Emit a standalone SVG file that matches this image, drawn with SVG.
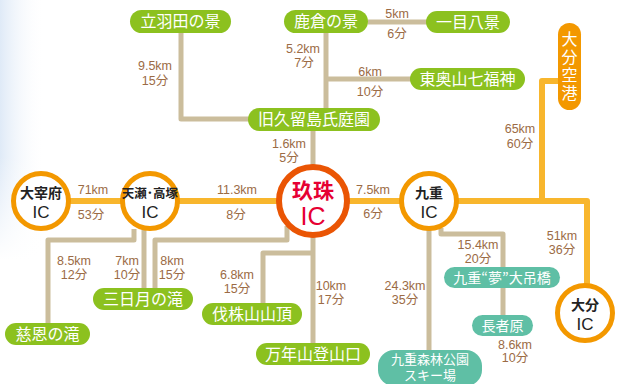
<svg xmlns="http://www.w3.org/2000/svg" width="623" height="384" viewBox="0 0 623 384">
<defs>
<linearGradient id="bg" x1="0" y1="0" x2="1" y2="0">
<stop offset="0" stop-color="#dfeaf7"/>
<stop offset="1" stop-color="#ffffff" stop-opacity="0"/>
</linearGradient>
<linearGradient id="bgv" x1="0" y1="0" x2="0" y2="1">
<stop offset="0" stop-color="#ffffff" stop-opacity="0"/>
<stop offset="0.6" stop-color="#ffffff" stop-opacity="0"/>
<stop offset="1" stop-color="#ffffff" stop-opacity="1"/>
</linearGradient>
<style>
text{font-family:"Noto Sans CJK JP","Liberation Sans",sans-serif}
.b{fill:none;stroke:#cbbd9c;stroke-width:5;stroke-linejoin:round}
.o{fill:none;stroke:#f8b62d;stroke-width:6;stroke-linejoin:round}
.g{fill:#8cc11f}
.t{fill:#5fbfa5}
.pl{fill:#fff;font-size:16px;text-anchor:middle}
.pt{fill:#fff;font-size:14px;text-anchor:middle}
.pa{fill:#fff;font-size:16px;writing-mode:vertical-rl;letter-spacing:2px;text-anchor:middle}
.d{fill:#9b6b45;font-size:12.5px;text-anchor:middle;font-family:"Liberation Sans","Noto Sans CJK JP",sans-serif}
.ic{fill:#fff;stroke:#f39800;stroke-width:5}
.ct{fill:#222;font-size:14px;text-anchor:middle;font-weight:bold}
.ci{fill:#222;font-size:17px;text-anchor:middle;font-family:"Liberation Sans",sans-serif}
</style>
</defs>
<rect width="623" height="384" fill="#fff"/>
<rect x="0" y="0" width="45" height="260" fill="url(#bg)"/>
<rect x="0" y="0" width="45" height="260" fill="url(#bgv)"/>

<g id="connectors">
<path class="b" d="M181,33 V119 H250"/>
<path class="b" d="M326,33 V110"/>
<path class="b" d="M326,79 H412"/>
<path class="b" d="M368,22 H428"/>
<path class="b" d="M313,130 V166"/>
<path class="b" d="M313,236 V345"/>
<path class="b" d="M313,253 H263 V305"/>
<path class="b" d="M287,226 V240 H155 V290"/>
<path class="b" d="M144,229 V290"/>
<path class="b" d="M134,229 V240 H48 V325"/>
<path class="b" d="M429,229 V352"/>
<path class="b" d="M441,228 V234 H503 V317"/>
<path class="o" d="M41,201 H587 V285"/>
<path class="o" d="M542,201 V81 H560"/>
</g>

<g id="labels">
<text class="d" x="93" y="194">71km</text><text class="d" x="91" y="219">53分</text>
<text class="d" x="237" y="194">11.3km</text><text class="d" x="236" y="219">8分</text>
<text class="d" x="373" y="194">7.5km</text><text class="d" x="373" y="218">6分</text>
<text class="d" x="520" y="133">65km</text><text class="d" x="520" y="148">60分</text>
<text class="d" x="562" y="240">51km</text><text class="d" x="562" y="254">36分</text>
<text class="d" x="289" y="148">1.6km</text><text class="d" x="289" y="162">5分</text>
<text class="d" x="155" y="70">9.5km</text><text class="d" x="155" y="85">15分</text>
<text class="d" x="303" y="53">5.2km</text><text class="d" x="304" y="67">7分</text>
<text class="d" x="397" y="18">5km</text><text class="d" x="397" y="38">6分</text>
<text class="d" x="370" y="76">6km</text><text class="d" x="370" y="96">10分</text>
<text class="d" x="74" y="265">8.5km</text><text class="d" x="74" y="279">12分</text>
<text class="d" x="127" y="265">7km</text><text class="d" x="127" y="279">10分</text>
<text class="d" x="172" y="265">8km</text><text class="d" x="172" y="279">15分</text>
<text class="d" x="237" y="279">6.8km</text><text class="d" x="237" y="293">15分</text>
<text class="d" x="331" y="290">10km</text><text class="d" x="331" y="304">17分</text>
<text class="d" x="405" y="290">24.3km</text><text class="d" x="405" y="304">35分</text>
<text class="d" x="478" y="249">15.4km</text><text class="d" x="478" y="263">20分</text>
<text class="d" x="515" y="349">8.6km</text><text class="d" x="515" y="362">10分</text>
</g>

<g id="n-tachiwada"><rect class="g" x="130" y="10" width="101" height="23" rx="11.5"/><text class="pl" x="180.5" y="27">立羽田の景</text></g>
<g id="n-shikakura"><rect class="g" x="284" y="10" width="84" height="23" rx="11.5"/><text class="pl" x="326" y="27">鹿倉の景</text></g>
<g id="n-hitome"><rect class="g" x="426" y="11" width="84" height="22" rx="11"/><text class="pl" x="468" y="27.5">一目八景</text></g>
<g id="n-higashi"><rect class="g" x="410" y="68" width="115" height="22" rx="11"/><text class="pl" x="467.5" y="84.5">東奥山七福神</text></g>
<g id="n-kyukurushima"><rect class="g" x="248" y="108" width="132" height="23" rx="11.5"/><text class="pl" x="314" y="125">旧久留島氏庭園</text></g>
<g id="n-jion"><rect class="g" x="5" y="323" width="85" height="22" rx="11"/><text class="pl" x="47.5" y="339.5">慈恩の滝</text></g>
<g id="n-mikazuki"><rect class="g" x="93" y="288" width="100" height="22" rx="11"/><text class="pl" x="143" y="304.5">三日月の滝</text></g>
<g id="n-kirikabu"><rect class="g" x="202" y="303" width="100" height="22" rx="11"/><text class="pl" x="252" y="319.5">伐株山山頂</text></g>
<g id="n-haneyama"><rect class="g" x="256" y="343" width="114" height="22" rx="11"/><text class="pl" x="313" y="359.5">万年山登山口</text></g>
<g id="n-yume"><rect class="t" x="444" y="267" width="116" height="21" rx="10.5"/><text class="pt" x="502" y="282.5">九重“夢”大吊橋</text></g>
<g id="n-chojabaru"><rect class="t" x="472" y="315" width="61" height="21" rx="10.5"/><text class="pt" x="502.5" y="330.5">長者原</text></g>
<g id="n-ski"><rect class="t" x="378" y="350" width="104" height="36" rx="16"/><text class="pt" style="font-size:13px"><tspan x="430" y="364">九重森林公園</tspan><tspan x="430" y="380">スキー場</tspan></text></g>
<g id="n-airport"><rect x="558" y="23" width="23" height="87" rx="11.5" fill="#f39800"/><text class="pa" x="569.5" y="67">大分空港</text></g>

<g id="n-dazaifu"><circle class="ic" cx="41" cy="201" r="27.5"/><text class="ct" x="41" y="198">大宰府</text><text class="ci" x="41" y="218">IC</text></g>
<g id="n-amase"><circle class="ic" cx="150" cy="201" r="27.5"/><text class="ct" x="150" y="198" style="font-size:12.5px">天瀬･高塚</text><text class="ci" x="150" y="218">IC</text></g>
<g id="n-kusu"><circle cx="313" cy="201" r="34" fill="#fff" stroke="#ea5504" stroke-width="6"/><text x="313" y="198" text-anchor="middle" style="fill:#e60033;font-size:21px;font-weight:bold">玖珠</text><text x="313" y="225" text-anchor="middle" style="fill:#e60033;font-size:25px;font-family:'Liberation Sans',sans-serif">IC</text></g>
<g id="n-kokonoe"><circle class="ic" cx="429" cy="201" r="27.5"/><text class="ct" x="429" y="198">九重</text><text class="ci" x="429" y="218">IC</text></g>
<g id="n-oita"><circle class="ic" cx="585" cy="313" r="27.5"/><text class="ct" x="585" y="310">大分</text><text class="ci" x="585" y="330">IC</text></g>
</svg>
